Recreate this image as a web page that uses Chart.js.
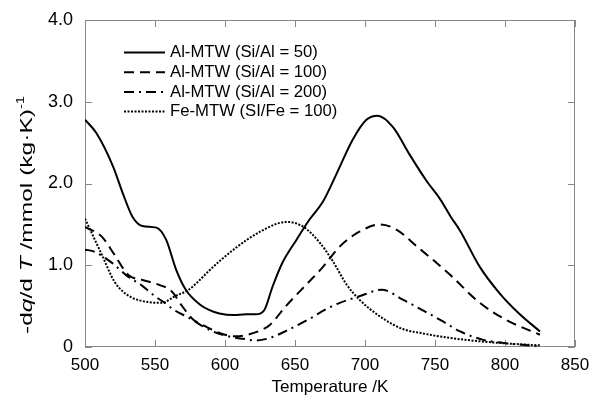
<!DOCTYPE html>
<html>
<head>
<meta charset="utf-8">
<script src="https://cdn.jsdelivr.net/npm/chart.js@4.4.1/dist/chart.umd.min.js"></script>
<style>
  html, body { margin: 0; padding: 0; background: #fff; }
  #wrap { width: 591px; height: 398px; }
</style>
</head>
<body>
<div id="wrap"><canvas id="tpdChart"></canvas></div>
<script>
// --- data: temperature (K) vs -dq/dT (mmol/(kg K))
const seriesLabels = ["Al-MTW (Si/Al = 50)", "Al-MTW (Si/Al = 100)", "Al-MTW (Si/Al = 200)", "Fe-MTW (SI/Fe = 100)"];

const al50T = [500, 508, 520, 527, 534, 541, 551, 558, 565, 572, 582, 589, 596, 606, 615, 622, 628, 634, 641, 651, 660, 670, 680, 691, 701, 709, 720, 732, 744, 754, 761, 768, 782, 796, 810, 825];
const al50Y = [2.78, 2.62, 2.21, 1.88, 1.59, 1.48, 1.46, 1.31, 0.95, 0.70, 0.52, 0.45, 0.41, 0.39, 0.40, 0.40, 0.45, 0.74, 1.03, 1.31, 1.55, 1.78, 2.13, 2.53, 2.78, 2.83, 2.69, 2.35, 2.03, 1.80, 1.60, 1.42, 0.98, 0.66, 0.41, 0.19];

const al100T = [500, 512, 521, 531, 541, 553, 562, 569, 577, 584, 591, 600, 608, 616, 625, 632, 644, 659, 670, 682, 696, 711, 723, 737, 749, 761, 782, 801, 825];
const al100Y = [1.47, 1.35, 1.13, 0.88, 0.82, 0.76, 0.68, 0.51, 0.34, 0.27, 0.21, 0.15, 0.13, 0.15, 0.20, 0.27, 0.51, 0.78, 0.98, 1.23, 1.41, 1.50, 1.43, 1.23, 1.06, 0.88, 0.54, 0.33, 0.15];

const al200T = [500, 506, 520, 530, 540, 550, 557, 563, 575, 590, 605, 613, 622, 632, 644, 661, 673, 682, 696, 712, 727, 739, 754, 768, 784, 804, 825];
const al200Y = [1.19, 1.17, 1.02, 0.87, 0.76, 0.62, 0.54, 0.46, 0.35, 0.20, 0.12, 0.10, 0.08, 0.11, 0.20, 0.35, 0.47, 0.54, 0.62, 0.70, 0.58, 0.47, 0.33, 0.19, 0.09, 0.04, 0.01];

const feT = [500, 506, 512, 521, 527, 534, 545, 555, 564, 574, 582, 589, 606, 625, 644, 656, 668, 677, 687, 696, 711, 727, 740, 761, 782, 804, 825];
const feY = [1.57, 1.35, 1.13, 0.80, 0.68, 0.60, 0.55, 0.54, 0.62, 0.70, 0.82, 0.94, 1.19, 1.41, 1.53, 1.47, 1.27, 1.05, 0.76, 0.58, 0.37, 0.22, 0.17, 0.11, 0.07, 0.04, 0.02];

const yTickLabels = ["0", "1.0", "2.0", "3.0", "4.0"];

const FONT = '"Liberation Sans", Arial, sans-serif';
const AXIS_GREY = "#878787";

function toPoints(xs, ys) {
  return xs.map((x, i) => ({ x: x, y: ys[i] }));
}

// font size so that `text` is `target` px wide
function fitSize(ctx, text, target, style) {
  ctx.font = (style || "") + " 20px " + FONT;
  return 20 * target / ctx.measureText(text).width;
}

// --- frame + inward tick marks on all four sides
const framePlugin = {
  id: "frame",
  beforeDatasetsDraw(chart) {
    const { ctx, chartArea: { left, right, top, bottom } } = chart;
    const xs = chart.scales.x, ys = chart.scales.y;
    const tl = 7;
    ctx.save();
    ctx.strokeStyle = AXIS_GREY;
    ctx.lineWidth = 1;
    ctx.beginPath();
    ctx.rect(left + 0.5, top + 0.5, right - left - 1, bottom - top - 1);
    xs.ticks.forEach(t => {
      const px = Math.round(xs.getPixelForValue(t.value)) + 0.5;
      ctx.moveTo(px, bottom); ctx.lineTo(px, bottom - tl);
      ctx.moveTo(px, top); ctx.lineTo(px, top + tl);
    });
    ys.ticks.forEach(t => {
      const py = Math.round(ys.getPixelForValue(t.value)) + 0.5;
      ctx.moveTo(left, py); ctx.lineTo(left + tl, py);
      ctx.moveTo(right, py); ctx.lineTo(right - tl, py);
    });
    ctx.stroke();
    ctx.restore();
  }
};

// --- legend in the upper left + axis titles
const textPlugin = {
  id: "texts",
  afterDraw(chart) {
    const { ctx, chartArea: { left, right } } = chart;
    ctx.save();
    // legend
    const legSize = fitSize(ctx, seriesLabels[0], 148);
    chart.data.datasets.forEach((ds, i) => {
      const y = 52.5 + i * 19.7;
      ctx.strokeStyle = ds.borderColor;
      ctx.lineWidth = ds.borderWidth;
      ctx.setLineDash(ds.borderDash || []);
      ctx.beginPath();
      ctx.moveTo(124, y); ctx.lineTo(165, y);
      ctx.stroke();
      ctx.setLineDash([]);
      ctx.fillStyle = "#000";
      ctx.font = legSize + "px " + FONT;
      ctx.textBaseline = "middle";
      ctx.textAlign = "left";
      ctx.fillText(ds.label, 170, y);
    });

    // x title
    ctx.font = fitSize(ctx, "Temperature /K", 117) + "px " + FONT;
    ctx.textAlign = "center";
    ctx.textBaseline = "middle";
    ctx.fillText("Temperature /K", (left + right) / 2, 387);

    // y title, with italic q, T and superscript -1
    const parts = [
      { t: "-d", s: "", k: 1, dy: 0 },
      { t: "q", s: "italic", k: 1, dy: 0 },
      { t: "/d ", s: "", k: 1, dy: 0 },
      { t: "T", s: "italic", k: 1, dy: 0 },
      { t: " /mmol (kg\u00B7K)", s: "", k: 1, dy: 0 },
      { t: "-1", s: "", k: 0.6, dy: -6 }
    ];
    const ySize = 17;
    let total = 0;
    parts.forEach(p => { ctx.font = p.s + " " + (ySize * p.k) + "px " + FONT; p.w = ctx.measureText(p.t).width; total += p.w; });
    ctx.translate(27, 215);
    ctx.rotate(-Math.PI / 2);
    ctx.scale(238 / total, 1);
    ctx.textAlign = "left";
    let x = -total / 2;
    parts.forEach(p => {
      ctx.font = p.s + " " + (ySize * p.k) + "px " + FONT;
      ctx.fillText(p.t, x, p.dy);
      x += p.w;
    });
    ctx.restore();
  }
};

window.addEventListener("load", () => {
  const ctxTpd = document.getElementById("tpdChart").getContext("2d");
  new Chart(ctxTpd, {
    type: "line",
    data: {
      datasets: [
        { label: seriesLabels[0], data: toPoints(al50T, al50Y), borderColor: "#000", borderWidth: 2, borderDash: [] },
        { label: seriesLabels[1], data: toPoints(al100T, al100Y), borderColor: "#000", borderWidth: 2, borderDash: [10, 6] },
        { label: seriesLabels[2], data: toPoints(al200T, al200Y), borderColor: "#000", borderWidth: 2, borderDash: [10, 5, 2, 5] },
        { label: seriesLabels[3], data: toPoints(feT, feY), borderColor: "#000", borderWidth: 2, borderDash: [2, 1.5] }
      ]
    },
    options: {
      responsive: true,
      maintainAspectRatio: false,
      animation: false,
      layout: { padding: { top: 20, right: 16, left: 0, bottom: 0 } },
      elements: {
        point: { radius: 0 },
        line: { cubicInterpolationMode: "monotone", fill: false }
      },
      plugins: { legend: { display: false }, tooltip: { enabled: false } },
      scales: {
        x: {
          type: "linear", min: 500, max: 850,
          afterFit: s => { s.height = 51; s.paddingLeft = 0; s.paddingRight = 0; },
          grid: { display: false, drawTicks: false },
          border: { display: false },
          ticks: { stepSize: 50, padding: 8, maxRotation: 0, autoSkip: false, color: "#000", font: { family: FONT, size: 17 }, callback: v => String(v) }
        },
        y: {
          type: "linear", min: 0, max: 4,
          afterFit: s => { s.width = 85; s.paddingTop = 0; s.paddingBottom = 0; },
          grid: { display: false, drawTicks: false },
          border: { display: false },
          ticks: { stepSize: 1, padding: 12, color: "#000", font: { family: FONT, size: 18 }, callback: v => yTickLabels[v] }
        }
      }
    },
    plugins: [framePlugin, textPlugin]
  });
});
</script>
</body>
</html>
